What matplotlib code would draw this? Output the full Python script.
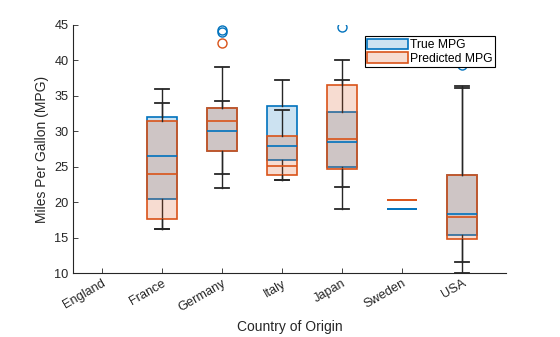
import matplotlib.pyplot as plt
from matplotlib.patches import Patch

plt.rcParams['font.family'] = ['Liberation Sans', 'DejaVu Sans']

countries = ['England', 'France', 'Germany', 'Italy', 'Japan', 'Sweden', 'USA']
# countries that have cars in the data (England has none)
present = ['France', 'Germany', 'Italy', 'Japan', 'Sweden', 'USA']

# box statistics per country: Q1, median, Q3, lower whisker, upper whisker
true_q1 = [20.5, 27.2, 26.0, 25.0, 19.0, 15.4]
true_med = [26.5, 30.0, 28.0, 28.5, 19.0, 18.3]
true_q3 = [32.0, 33.3, 33.6, 32.8, 19.0, 23.9]
true_lo = [16.2, 22.0, 23.2, 19.0, 19.0, 10.0]
true_hi = [36.0, 39.1, 37.3, 40.0, 19.0, 36.1]
true_out = [[], [44.3, 44.0], [], [44.7], [], [39.4]]

pred_q1 = [17.7, 27.3, 23.8, 24.7, 20.3, 14.9]
pred_med = [24.0, 31.4, 25.1, 28.9, 20.3, 18.0]
pred_q3 = [31.4, 33.3, 29.4, 36.6, 20.3, 23.9]
pred_lo = [16.2, 24.0, 23.1, 22.2, 20.3, 11.6]
pred_hi = [34.0, 34.3, 33.0, 37.2, 20.3, 36.4]
pred_out = [[], [42.4], [], [], [], []]

blue = '#0072BD'
orange = '#D95319'


def make_stats(q1, med, q3, lo, hi, out):
    return [dict(q1=a, med=b, q3=c, whislo=d, whishi=e, fliers=f)
            for a, b, c, d, e, f in zip(q1, med, q3, lo, hi, out)]


fig = plt.figure(figsize=(5.6, 3.37), dpi=100)
ax = fig.add_axes([0.130, 0.189, 0.774, 0.737])

pos = [countries.index(c) + 1 for c in present]
# no caps where the whole group sits on one value
caps = [0.0 if lo == hi else 0.23 for lo, hi in zip(true_lo, true_hi)]

for stats, col in [(make_stats(true_q1, true_med, true_q3, true_lo, true_hi, true_out), blue),
                   (make_stats(pred_q1, pred_med, pred_q3, pred_lo, pred_hi, pred_out), orange)]:
    ax.bxp(stats, positions=pos, widths=0.5, capwidths=caps, patch_artist=True,
           manage_ticks=False,
           boxprops=dict(facecolor=col + '33', edgecolor=col, linewidth=1.2),
           medianprops=dict(color=col, linewidth=1.2),
           whiskerprops=dict(color='#262626', linewidth=1.0),
           capprops=dict(color='#262626', linewidth=1.3),
           flierprops=dict(marker='o', markerfacecolor='none',
                           markeredgecolor=col, markersize=6.5,
                           markeredgewidth=1.0))

ax.set_xlim(0.52, 7.73)
ax.set_ylim(10, 45)
ax.set_xticks(range(1, len(countries) + 1))
ax.set_xticklabels(countries, rotation=30, ha='right', rotation_mode='anchor')
ax.set_yticks(range(10, 46, 5))
ax.tick_params(direction='in', length=3.5, width=0.6, labelsize=9.2,
               colors='#262626', pad=3)
for s in ['top', 'right']:
    ax.spines[s].set_visible(False)
for s in ['left', 'bottom']:
    ax.spines[s].set_linewidth(0.8)
    ax.spines[s].set_color('#262626')

ax.set_xlabel('Country of Origin', fontsize=10, color='#262626')
ax.set_ylabel('Miles Per Gallon (MPG)', fontsize=10, color='#262626')

handles = [Patch(facecolor=blue + '33', edgecolor=blue, linewidth=1.2),
           Patch(facecolor=orange + '33', edgecolor=orange, linewidth=1.2)]
leg = ax.legend(handles, ['True MPG', 'Predicted MPG'], loc='upper right',
                bbox_to_anchor=(0.975, 0.955), fontsize=8.7, fancybox=False,
                framealpha=1, edgecolor='black', handlelength=3.4,
                handleheight=0.95, handletextpad=0.2, labelspacing=0.12,
                borderpad=0.2, borderaxespad=0)
leg.get_frame().set_linewidth(0.8)
leg.set_zorder(10)

fig.savefig('out.png', dpi=100)
